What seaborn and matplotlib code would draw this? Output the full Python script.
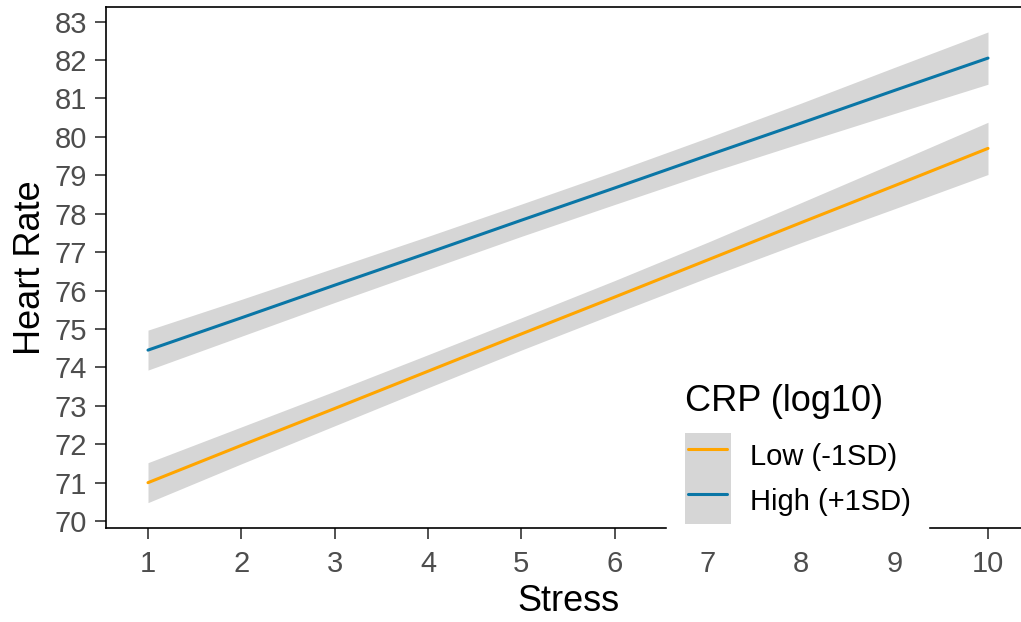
import numpy as np
import pandas as pd
import seaborn as sns
import matplotlib.pyplot as plt
from matplotlib.patches import Patch
from matplotlib.lines import Line2D
from matplotlib.legend_handler import HandlerLine2D

# values
stress = [1, 2, 3, 4, 5, 6, 7, 8, 9, 10]
groups = ['Low (-1SD)', 'High (+1SD)']
hr_low = [71.0, 71.97, 72.93, 73.9, 74.87, 75.83, 76.8, 77.77, 78.73, 79.7]
hr_high = [74.45, 75.29, 76.14, 76.98, 77.83, 78.67, 79.52, 80.36, 81.21, 82.05]
half_width = [0.52, 0.48, 0.45, 0.43, 0.42, 0.43, 0.46, 0.52, 0.6, 0.68]
colors = ['#FFA500', '#0A76A6']
ribbon = '#D6D6D6'

df = pd.DataFrame({
    'Stress': stress * 2,
    'Heart Rate': hr_low + hr_high,
    'CRP': [groups[0]] * len(stress) + [groups[1]] * len(stress),
})

sns.set_style('ticks')
plt.rcParams['font.family'] = ['Liberation Sans', 'DejaVu Sans']

fig = plt.figure(figsize=(10.21, 6.22), dpi=100)
ax = fig.add_axes([106 / 1021, 94 / 622, 924 / 1021, 521 / 622])

for vals in (hr_low, hr_high):
    lo = np.array(vals) - np.array(half_width)
    hi = np.array(vals) + np.array(half_width)
    ax.fill_between(stress, lo, hi, color=ribbon, linewidth=0, zorder=1)

sns.lineplot(data=df, x='Stress', y='Heart Rate', hue='CRP',
             palette=dict(zip(groups, colors)), linewidth=2.2,
             legend=False, ax=ax, zorder=2)

ax.set_xlim(0.55, 10.45)
ax.set_ylim(69.82, 83.38)
ax.set_xticks(stress)
ax.set_yticks(range(70, 84))

for s in ax.spines.values():
    s.set_color('black')
    s.set_linewidth(1.2)

ax.tick_params(axis='both', labelsize=21, labelcolor='#4D4D4D',
               color='#333333', length=8, width=1.2)
ax.tick_params(axis='y', pad=5.5)
ax.tick_params(axis='x', pad=8)

ax.set_xlabel('Stress', fontsize=26, color='black', labelpad=4)
ax.set_ylabel('Heart Rate', fontsize=26, color='black', labelpad=5)

handles = []
for c in colors:
    handles.append((Patch(facecolor=ribbon, edgecolor='none'),
                    Line2D([], [], color=c, linewidth=2.2)))

leg = ax.legend(handles, groups, title='CRP (log10)', loc='lower left',
                bbox_to_anchor=(667 / 1021, 81 / 622),
                bbox_transform=fig.transFigure, borderaxespad=0,
                fontsize=21, title_fontsize=26, alignment='left',
                frameon=True, fancybox=False, framealpha=1,
                edgecolor='white', facecolor='white', labelcolor='black',
                handlelength=1.58, handleheight=2.02, labelspacing=0,
                handletextpad=0.65, borderpad=0.6, numpoints=2,
                handler_map={Line2D: HandlerLine2D(marker_pad=0.13)})
leg.get_title().set_color('black')
leg._legend_box.sep = 9.5  # gap between title and keys
leg.set_zorder(10)

fig.savefig('out.png', dpi=100)
